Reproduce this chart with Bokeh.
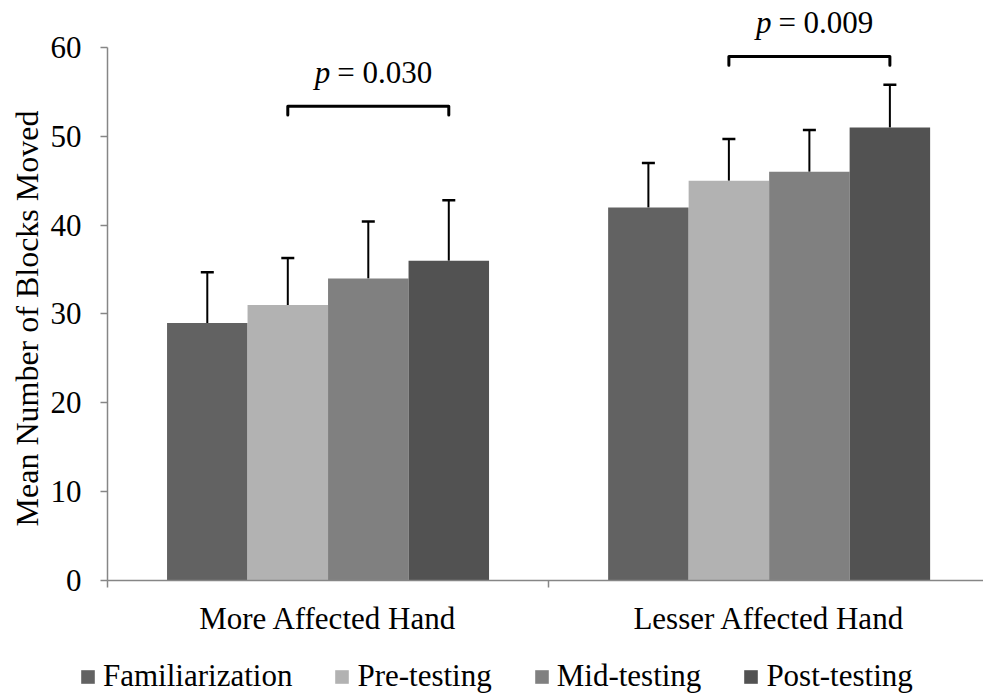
from bokeh.plotting import figure
from bokeh.layouts import column
from bokeh.models import (ColumnDataSource, Range1d, FixedTicker, Legend, LegendItem,
                          Label, Whisker, TeeHead)
from bokeh.embed import file_html
from bokeh.resources import INLINE

# ---------------- data ----------------
groups = ["More Affected Hand", "Lesser Affected Hand"]
series = ["Familiarization", "Pre-testing", "Mid-testing", "Post-testing"]
familiarization = [29.0, 42.0]
pre_testing = [31.0, 45.0]
mid_testing = [34.0, 46.0]
post_testing = [36.0, 51.0]
familiarization_err = [5.7, 5.0]
pre_testing_err = [5.3, 4.7]
mid_testing_err = [6.4, 4.7]
post_testing_err = [6.8, 4.8]
y_ticks = [0, 10, 20, 30, 40, 50, 60]
p_values = ["0.030", "0.009"]
bracket_level = [53.4, 59.0]

# ---------------- style ----------------
FONT = "Liberation Serif"
FS = "31px"
AXIS_GRAY = "#868686"
colors = ["#626262", "#b2b2b2", "#808080", "#525252"]
BAR_W = 0.1825
BRACKET_DROP = 1.0
TEXT_GAP = 3.8

p = figure(width=983, height=640, frame_width=876, frame_height=572,
           min_border_left=107, min_border_right=0, min_border_top=8, min_border_bottom=60,
           x_range=Range1d(0, 1.986), y_range=Range1d(0, 64.39),
           output_backend="svg", toolbar_location=None)
p.outline_line_color = None
p.grid.visible = False
p.background_fill_color = "white"
p.border_fill_color = "white"

# legend strip (separate figure so the legend is not clipped by the main frame)
leg = figure(width=983, height=54, frame_width=983, frame_height=54,
             min_border=0, x_range=Range1d(-20, -19), y_range=Range1d(-20, -19),
             x_axis_location=None, y_axis_location=None,
             output_backend="svg", toolbar_location=None)
leg.outline_line_color = None
leg.grid.visible = False
leg.background_fill_color = "white"
leg.border_fill_color = "white"

means = [familiarization, pre_testing, mid_testing, post_testing]
errs = [familiarization_err, pre_testing_err, mid_testing_err, post_testing_err]

def xpos(g, i):
    return g + 0.5 + (i - 1.5) * BAR_W

items = []
for i, (name, m, e, c) in enumerate(zip(series, means, errs, colors)):
    xs = [xpos(g, i) for g in range(len(groups))]
    src = ColumnDataSource(dict(x=xs, top=m, upper=[a + b for a, b in zip(m, e)]))
    p.vbar(x="x", top="top", bottom=0, width=BAR_W, source=src,
           fill_color=c, line_color=None)
    w = Whisker(base="x", lower="top", upper="upper", source=src, dimension="height",
                line_color="black", line_width=2, lower_head=None,
                upper_head=TeeHead(size=13, line_color="black", line_width=2.5))
    p.add_layout(w)
    # same series in the legend strip (outside its visible ranges) -> legend swatch only
    leg_src = ColumnDataSource(dict(x=xs, top=m))
    r = leg.vbar(x="x", top="top", bottom=0, width=BAR_W, source=leg_src,
                 fill_color=c, line_color=None)
    items.append(LegendItem(label=name, renderers=[r]))

# significance brackets (Pre-testing -> Post-testing)
for g, (lvl, pv) in enumerate(zip(bracket_level, p_values)):
    x1, x2 = xpos(g, 1), xpos(g, 3)
    p.line(x=[x1, x1, x2, x2], y=[lvl - BRACKET_DROP, lvl, lvl, lvl - BRACKET_DROP],
           line_color="black", line_width=3, line_join="round", line_cap="round")
    xc = (x1 + x2) / 2
    p.add_layout(Label(x=xc, y=lvl + TEXT_GAP, text="p", x_offset=-38,
                       text_align="right", text_baseline="alphabetic",
                       text_font=FONT, text_font_size=FS, text_font_style="italic",
                       text_color="black"))
    p.add_layout(Label(x=xc, y=lvl + TEXT_GAP, text="= " + pv, x_offset=-31,
                       text_align="left", text_baseline="alphabetic",
                       text_font=FONT, text_font_size=FS, text_color="black"))

# x axis
xa = p.xaxis[0]
xa.ticker = FixedTicker(ticks=[g + 0.5 for g in range(len(groups))],
                        minor_ticks=[float(g) for g in range(len(groups) + 1)])
xa.major_label_overrides = {g + 0.5: name for g, name in enumerate(groups)}
xa.major_tick_line_color = None
xa.major_tick_out = 0
xa.major_tick_in = 0
xa.minor_tick_out = 7
xa.minor_tick_in = 0
xa.minor_tick_line_color = AXIS_GRAY
xa.minor_tick_line_width = 1.5
xa.axis_line_color = AXIS_GRAY
xa.axis_line_width = 1.5
xa.major_label_standoff = 13
xa.major_label_text_font = FONT
xa.major_label_text_font_size = FS
xa.major_label_text_color = "black"

# y axis
ya = p.yaxis[0]
ya.ticker = FixedTicker(ticks=y_ticks)
ya.bounds = (y_ticks[0], y_ticks[-1])
ya.minor_tick_line_color = None
ya.major_tick_out = 7
ya.major_tick_in = 0
ya.major_tick_line_color = AXIS_GRAY
ya.major_tick_line_width = 1.5
ya.axis_line_color = AXIS_GRAY
ya.axis_line_width = 1.5
ya.major_label_standoff = 19
ya.major_label_text_font = FONT
ya.major_label_text_font_size = FS
ya.major_label_text_color = "black"
# trailing no-break spaces centre the visible title on the 0-60 axis span
ya.axis_label = "Mean Number of Blocks Moved" + "\u00a0" * 6
ya.axis_label_text_font = FONT
ya.axis_label_text_font_size = "32px"
ya.axis_label_text_font_style = "normal"
ya.axis_label_text_color = "black"
ya.axis_label_standoff = 3

legend = Legend(items=items, location=(79, 0), orientation="horizontal",
                glyph_width=17, glyph_height=17, label_standoff=7, spacing=41,
                padding=0, margin=0, border_line_color=None, background_fill_alpha=0,
                label_text_font=FONT, label_text_font_size=FS, label_text_color="black")
leg.add_layout(legend)

layout = column(p, leg, spacing=0)
open("out.html", "w").write(file_html(layout, INLINE))
